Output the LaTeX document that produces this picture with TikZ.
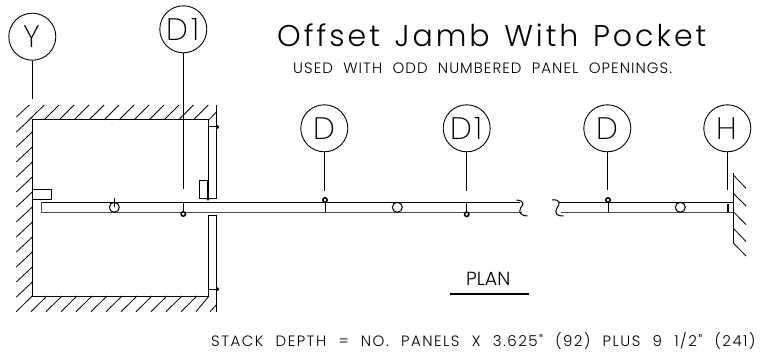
\documentclass[tikz,border=0pt]{standalone}
\usepackage{fontspec}
\setmainfont[LetterSpace=9]{Poppins ExtraLight}
\newfontfamily\titlefont[LetterSpace=10,WordSpace=1.3]{Poppins Light}
\newfontfamily\notefont[LetterSpace=7,WordSpace=2]{Poppins Light}
\newfontfamily\stackfont[LetterSpace=9.9,WordSpace=2.2]{Poppins Light}
\newfontfamily\planfont{Poppins Light}
\tikzset{
    tag/.style={circle, draw=black, line width=0.9pt, minimum size=47pt, inner sep=0pt, font=\fontsize{31}{31}\selectfont},
    wall/.style={black, line width=1pt},
    hatch/.style={black, line width=0.8pt},
    leader/.style={black, line width=0.9pt},
    panel/.style={black!70, line width=1pt},
    hinge/.style={black, line width=1.5pt, fill=white},
    note/.style={inner sep=0pt, anchor=base west, font=\notefont\fontsize{15}{17}\selectfont}
}
\begin{document}
\begin{tikzpicture}[x=1pt, y=-1pt]
            \useasboundingbox (0,0) rectangle (764,353);

            \draw[wall] (216.7,105) -- (216.7,198.7) -- (208.7,198.7) -- (208.7,120) -- (32.3,120) -- (32.3,296) -- (208.7,296) -- (208.7,215) -- (216.7,215) -- (216.7,311.7);
            \draw[wall] (208.7,126.7) -- (216.7,126.7);
            \draw[wall] (208.7,289.3) -- (216.7,289.3);
            \filldraw[black] (217.5,126.9) circle (1.6pt);
            \filldraw[black] (217.5,289.3) circle (1.6pt);
            \filldraw[black] (208,198.7) circle (1.6pt);

            \draw[hatch] (44.3,105) -- (28.8,120);
            \draw[hatch] (59,105) -- (44,120);
            \draw[hatch] (74,105) -- (59,120);
            \draw[hatch] (89,105) -- (74,120);
            \draw[hatch] (104,105) -- (89,120);
            \draw[hatch] (119,105) -- (104,120);
            \draw[hatch] (134,105) -- (119,120);
            \draw[hatch] (149,105) -- (134,120);
            \draw[hatch] (164,105) -- (149,120);
            \draw[hatch] (179,105) -- (164,120);
            \draw[hatch] (193.5,105) -- (178.5,120);
            \draw[hatch] (208.3,105) -- (193.3,120);
            \draw[hatch] (216.7,111.7) -- (208.7,120);

            \draw[hatch] (29.3,105) -- (16.3,117);
            \draw[hatch] (32.3,117) -- (16.3,132);
            \draw[hatch] (32.3,132) -- (16.3,147);
            \draw[hatch] (32.3,147) -- (16.3,162);
            \draw[hatch] (32.3,162) -- (16.3,177);
            \draw[hatch] (32.3,177) -- (16.3,192);
            \draw[hatch] (32.3,192) -- (16.3,207);
            \draw[hatch] (32.3,207) -- (16.3,222);
            \draw[hatch] (32.3,222) -- (16.3,237);
            \draw[hatch] (32.3,237) -- (16.3,252);
            \draw[hatch] (32.3,252) -- (16.3,267);
            \draw[hatch] (32.3,267) -- (16.3,282);
            \draw[hatch] (32.3,282) -- (16.3,297);

            \draw[hatch] (32.3,296) -- (16.3,311.7);
            \draw[hatch] (47,296) -- (31,311.7);
            \draw[hatch] (62,296) -- (46,311.7);
            \draw[hatch] (77,296) -- (61,311.7);
            \draw[hatch] (92,296) -- (76,311.7);
            \draw[hatch] (107,296) -- (91,311.7);
            \draw[hatch] (122,296) -- (106,311.7);
            \draw[hatch] (137,296) -- (121,311.7);
            \draw[hatch] (152,296) -- (136,311.7);
            \draw[hatch] (167,296) -- (151,311.7);
            \draw[hatch] (182,296) -- (166,311.7);
            \draw[hatch] (197,296) -- (181,311.7);
            \draw[hatch] (209,296) -- (196,311.7);
            \draw[hatch] (216.7,304.5) -- (210,311.7);

            \draw[wall] (733.3,173) -- (733.3,243);
            \draw[hatch] (733.3,175) -- (746,188.3);
            \draw[hatch] (733.3,193.3) -- (746,206);
            \draw[hatch] (733.3,211.7) -- (746,224.5);
            \draw[hatch] (733.3,228.3) -- (746,241.5);
            \draw[hatch] (733.3,243) -- (746,256);

            \draw[wall] (32.3,189.3) rectangle (51.7,199.3);
            \draw[wall] (199.3,180.7) rectangle (207.3,198.7);

            \draw[wall] (41.7,202.3) -- (520,202.3);
            \draw[panel] (522,212.3) -- (41.7,212.3) -- (41.7,202.3);
            \draw[wall] (559,202.3) -- (733.3,202.3);
            \draw[panel] (561,212.3) -- (733.3,212.3);
            \draw[wall] (516.5,200) .. controls (526,201) and (523,205) .. (520.5,208) .. controls (518,213) and (522,216) .. (527.5,216);
            \draw[wall] (552,200) .. controls (561,199) and (560,204) .. (557,208) .. controls (554,213) and (557,216.5) .. (563.5,216);

            \draw[wall] (114.3,207.3) circle (5pt);
            \draw[wall] (397.3,207.3) circle (5pt);
            \draw[wall] (680.3,207.3) circle (5pt);
            \draw[hatch] (114.3,198.3) -- (114.3,207.3);

            \node[tag] (tagY) at (32.3,36.7) {Y};
            \node[tag] (tagDa) at (183.3,29.3) {D1};
            \node[tag] (tagDb) at (324.3,128.3) {D};
            \node[tag] (tagDc) at (466.7,128.3) {D1};
            \node[tag] (tagDd) at (607.3,128.3) {D};
            \node[tag] (tagH) at (727.3,128.3) {H};

            \coordinate (endY) at (32.3,99);
            \coordinate (endDa) at (183.3,189);
            \coordinate (endDb) at (324.3,190.7);
            \coordinate (endDc) at (466.7,190.7);
            \coordinate (endDd) at (607.3,190);
            \coordinate (endH) at (727.3,190);

            \draw[leader] (tagY) -- (endY);
            \draw[leader] (tagDa) -- (endDa);
            \draw[leader] (tagDb) -- (endDb);
            \draw[leader] (tagDc) -- (endDc);
            \draw[leader] (tagDd) -- (endDd);
            \draw[leader] (tagH) -- (endH);

            \draw[wall] (183.3,202.3) -- (183.3,212);
            \draw[wall] (325,201) -- (325,212.3);
            \draw[wall] (466.7,202.3) -- (466.7,212);
            \draw[wall] (608,201) -- (608,212.3);
            \draw[black, line width=1.6pt] (727.7,204) -- (727.7,212.3);
            \draw[hinge] (183.3,214) circle (2.2pt);
            \draw[hinge] (325,200) circle (2.2pt);
            \draw[hinge] (466.7,214.3) circle (2.2pt);
            \draw[hinge] (608,200) circle (2.2pt);

            \node[inner sep=0pt, anchor=base west, font=\titlefont\fontsize{30}{32}\selectfont] (titleText) at (277,47) {Offset Jamb With Pocket};
            \node[note] (usedText) at (293,73.5) {USED WITH ODD NUMBERED PANEL OPENINGS.};
            \node[note, font=\planfont\fontsize{19}{21}\selectfont] (planText) at (466,285) {PLAN};
            \node[note, font=\stackfont\fontsize{15}{17}\selectfont] (stackText) at (211,346) {STACK DEPTH = NO. PANELS X 3.625" (92) PLUS 9 1/2" (241)};
            \draw[black, line width=2pt] (450,293.5) -- (529,293.5);
\end{tikzpicture}
\end{document}
